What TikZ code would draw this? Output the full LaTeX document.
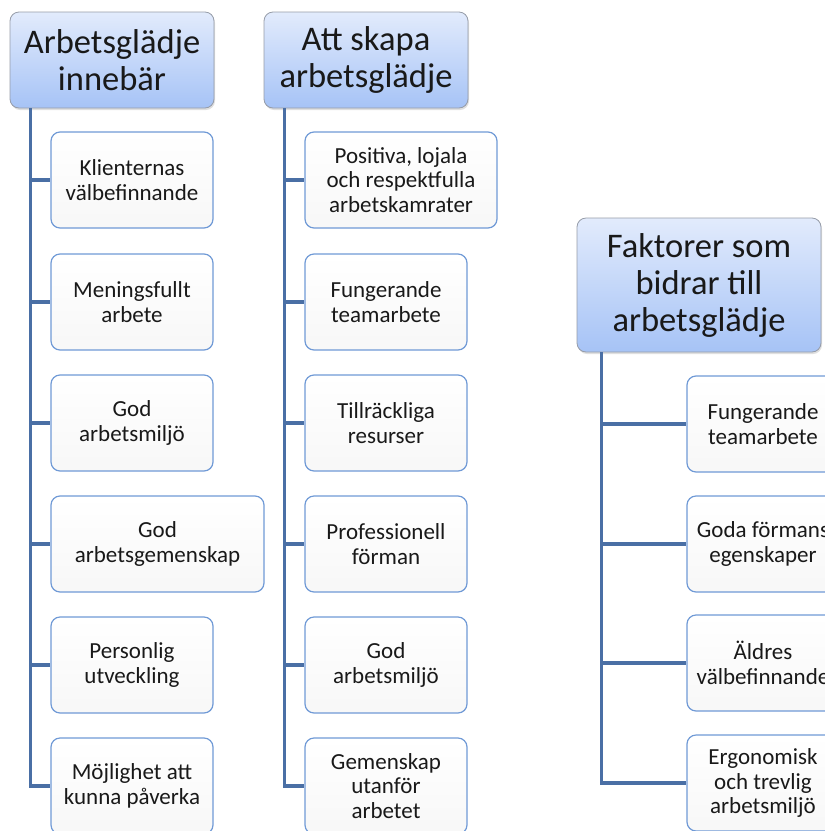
\documentclass[tikz,border=0pt]{standalone}
\usepackage{fontspec}
\setmainfont{Carlito}
\usepackage{tikz}
\usetikzlibrary{positioning,shadows}
\definecolor{linkblue}{RGB}{74,111,165}
\definecolor{boxblue}{RGB}{112,154,214}
\definecolor{headtop}{RGB}{226,235,252}
\definecolor{headbot}{RGB}{166,195,246}
\definecolor{headrim}{RGB}{150,156,168}
\newcommand\headfont{\fontsize{34.5}{37}\selectfont}
\newcommand\itemfont{\fontsize{23}{24.5}\selectfont}

\begin{document}
\begin{tikzpicture}[x=1pt,y=-1pt,
  header/.style={draw=headrim, line width=0.8pt, rounded corners=9pt,
    top color=headtop, bottom color=headbot, text=black!90,
    minimum width=204pt, minimum height=96pt, align=center, font=\headfont,
    drop shadow={opacity=0.25, shadow xshift=1pt, shadow yshift=-2pt}},
  item/.style={draw=boxblue, line width=1.2pt, rounded corners=9pt,
    top color=white, bottom color=gray!6, text=black!90,
    minimum width=162pt, minimum height=96pt, align=center, font=\itemfont},
  link/.style={draw=linkblue, line width=3.2pt}]
	%% page size
	\useasboundingbox (0,0) rectangle (825,831);

	%% column one
	\node[header] (h1) at (112,60) {Arbetsglädje\\innebär};
	\coordinate (t1) at ([xshift=21pt]h1.south west);
	\node[item] (c11) at (132,180) {Klienternas\\välbefinnande};
	\node[item] (c12) at (132,302) {Meningsfullt\\arbete};
	\node[item] (c13) at (132,423) {God\\arbetsmiljö};
	\node[item, minimum width=213pt] (c14) at (157.5,544) {God\\arbetsgemenskap};
	\node[item] (c15) at (132,665) {Personlig\\utveckling};
	\node[item] (c16) at (132,786) {Möjlighet att\\kunna påverka};

	%% column two
	\node[header] (h2) at (366,60) {Att skapa\\arbetsglädje};
	\coordinate (t2) at ([xshift=21pt]h2.south west);
	\node[item, minimum width=192pt] (c21) at (401,180) {Positiva, lojala\\och respektfulla\\arbetskamrater};
	\node[item] (c22) at (386,302) {Fungerande\\teamarbete};
	\node[item] (c23) at (386,423) {Tillräckliga\\resurser};
	\node[item] (c24) at (386,544) {Professionell\\förman};
	\node[item] (c25) at (386,665) {God\\arbetsmiljö};
	\node[item] (c26) at (386,786) {Gemenskap\\utanför\\arbetet};

	%% column three (runs past the right edge)
	\node[header, minimum width=244pt, minimum height=134pt] (h3) at (699,285) {Faktorer som\\bidrar till\\arbetsglädje};
	\coordinate (t3) at ([xshift=25pt]h3.south west);
	\node[item, minimum width=152pt] (c31) at (763,424) {Fungerande\\teamarbete};
	\node[item, minimum width=152pt] (c32) at (763,544) {Goda förmans\\egenskaper};
	\node[item, minimum width=152pt] (c33) at (763,663) {Äldres\\välbefinnande};
	\node[item, minimum width=152pt] (c34) at (763,783) {Ergonomisk\\och trevlig\\arbetsmiljö};

	%% connectors
	\begin{scope}[link]
		\draw (t1) |- (c11.west);
		\draw (t1) |- (c12.west);
		\draw (t1) |- (c13.west);
		\draw (t1) |- (c14.west);
		\draw (t1) |- (c15.west);
		\draw (t1) |- (c16.west);
		\draw (t2) |- (c21.west);
		\draw (t2) |- (c22.west);
		\draw (t2) |- (c23.west);
		\draw (t2) |- (c24.west);
		\draw (t2) |- (c25.west);
		\draw (t2) |- (c26.west);
		\draw (t3) |- (c31.west);
		\draw (t3) |- (c32.west);
		\draw (t3) |- (c33.west);
		\draw (t3) |- (c34.west);
	\end{scope}
\end{tikzpicture}
\end{document}
